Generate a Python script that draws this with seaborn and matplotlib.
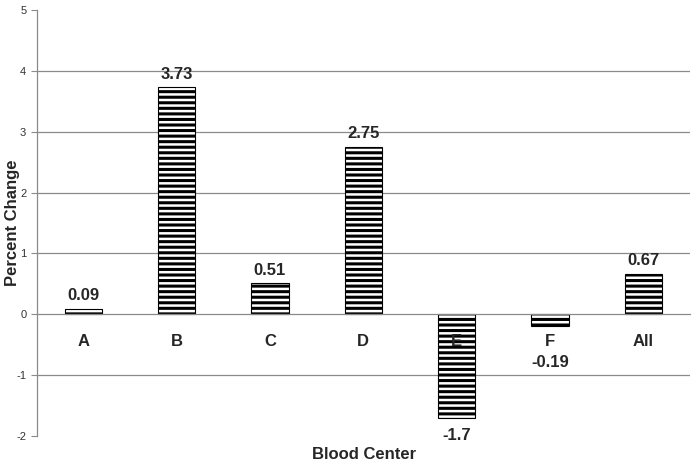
import matplotlib
matplotlib.use('Agg')
import matplotlib.pyplot as plt
import seaborn as sns
import pandas as pd
import numpy as np

# Values
centers = ['A', 'B', 'C', 'D', 'E', 'F', 'All']
pct_change = [0.09, 3.73, 0.51, 2.75, -1.7, -0.19, 0.67]
value_labels = ['0.09', '3.73', '0.51', '2.75', '-1.7', '-0.19', '0.67']
y_ticks = [-2, -1, 0, 1, 2, 3, 4, 5]

df = pd.DataFrame({'center': centers, 'change': pct_change})

sns.set_style('white')
plt.rcParams['font.family'] = ['Liberation Sans', 'DejaVu Sans']
plt.rcParams['axes.unicode_minus'] = False
plt.rcParams['hatch.linewidth'] = 2.2
plt.rcParams['hatch.color'] = 'black'

fig = plt.figure(figsize=(6.93, 4.66), dpi=100)
ax = fig.add_axes([0.054, 0.064, 0.942, 0.915])

sns.barplot(x='center', y='change', data=df, color='white', width=0.4,
            edgecolor='black', linewidth=0.8, ax=ax)
for p in ax.patches:
    p.set_hatch('---')

# grid lines at integer steps (not at 0 / 5)
for v in y_ticks:
    if v not in (0, 5, -2):
        ax.axhline(v, color='#8a8a8a', lw=0.9, zorder=0)

ax.set_ylim(-2, 5)
ax.set_yticks(y_ticks)
ax.set_xlim(-0.49, len(centers) - 0.51)
ax.set_axisbelow(False)

# x axis sits on zero
ax.spines['bottom'].set_position(('data', 0))
ax.spines['top'].set_visible(False)
ax.spines['right'].set_visible(False)
for s in ['bottom', 'left']:
    ax.spines[s].set_color('#8a8a8a')
    ax.spines[s].set_linewidth(0.9)

ax.tick_params(axis='x', which='major', length=0, pad=14, labelsize=12)
ax.set_xticks(np.arange(len(centers)) + 0.5, minor=True)
ax.tick_params(axis='x', which='minor', length=4, direction='out', color='#8a8a8a')
for t in ax.get_xticklabels():
    t.set_fontweight('bold')
ax.tick_params(axis='y', length=4, direction='out', color='#8a8a8a', labelsize=8,
               labelcolor='#333333', left=True, pad=4)

# value labels
for i, (v, lab) in enumerate(zip(pct_change, value_labels)):
    if v >= 0:
        ax.annotate(lab, (i, v), xytext=(0, 4), textcoords='offset points',
                    ha='center', va='bottom', fontsize=12, fontweight='bold')
    elif v < -1:
        ax.annotate(lab, (i, v), xytext=(0, -7), textcoords='offset points',
                    ha='center', va='top', fontsize=12, fontweight='bold')
    else:
        ax.annotate(lab, (i, v), xytext=(0, -21), textcoords='offset points',
                    ha='center', va='top', fontsize=12, fontweight='bold')

ax.set_xlabel('Blood Center', fontsize=12, fontweight='bold')
ax.xaxis.set_label_coords(0.5, -0.025)
ax.set_ylabel('Percent Change', fontsize=12, fontweight='bold')
ax.yaxis.set_label_coords(-0.027, 0.5)

fig.savefig('out.png', dpi=100)
